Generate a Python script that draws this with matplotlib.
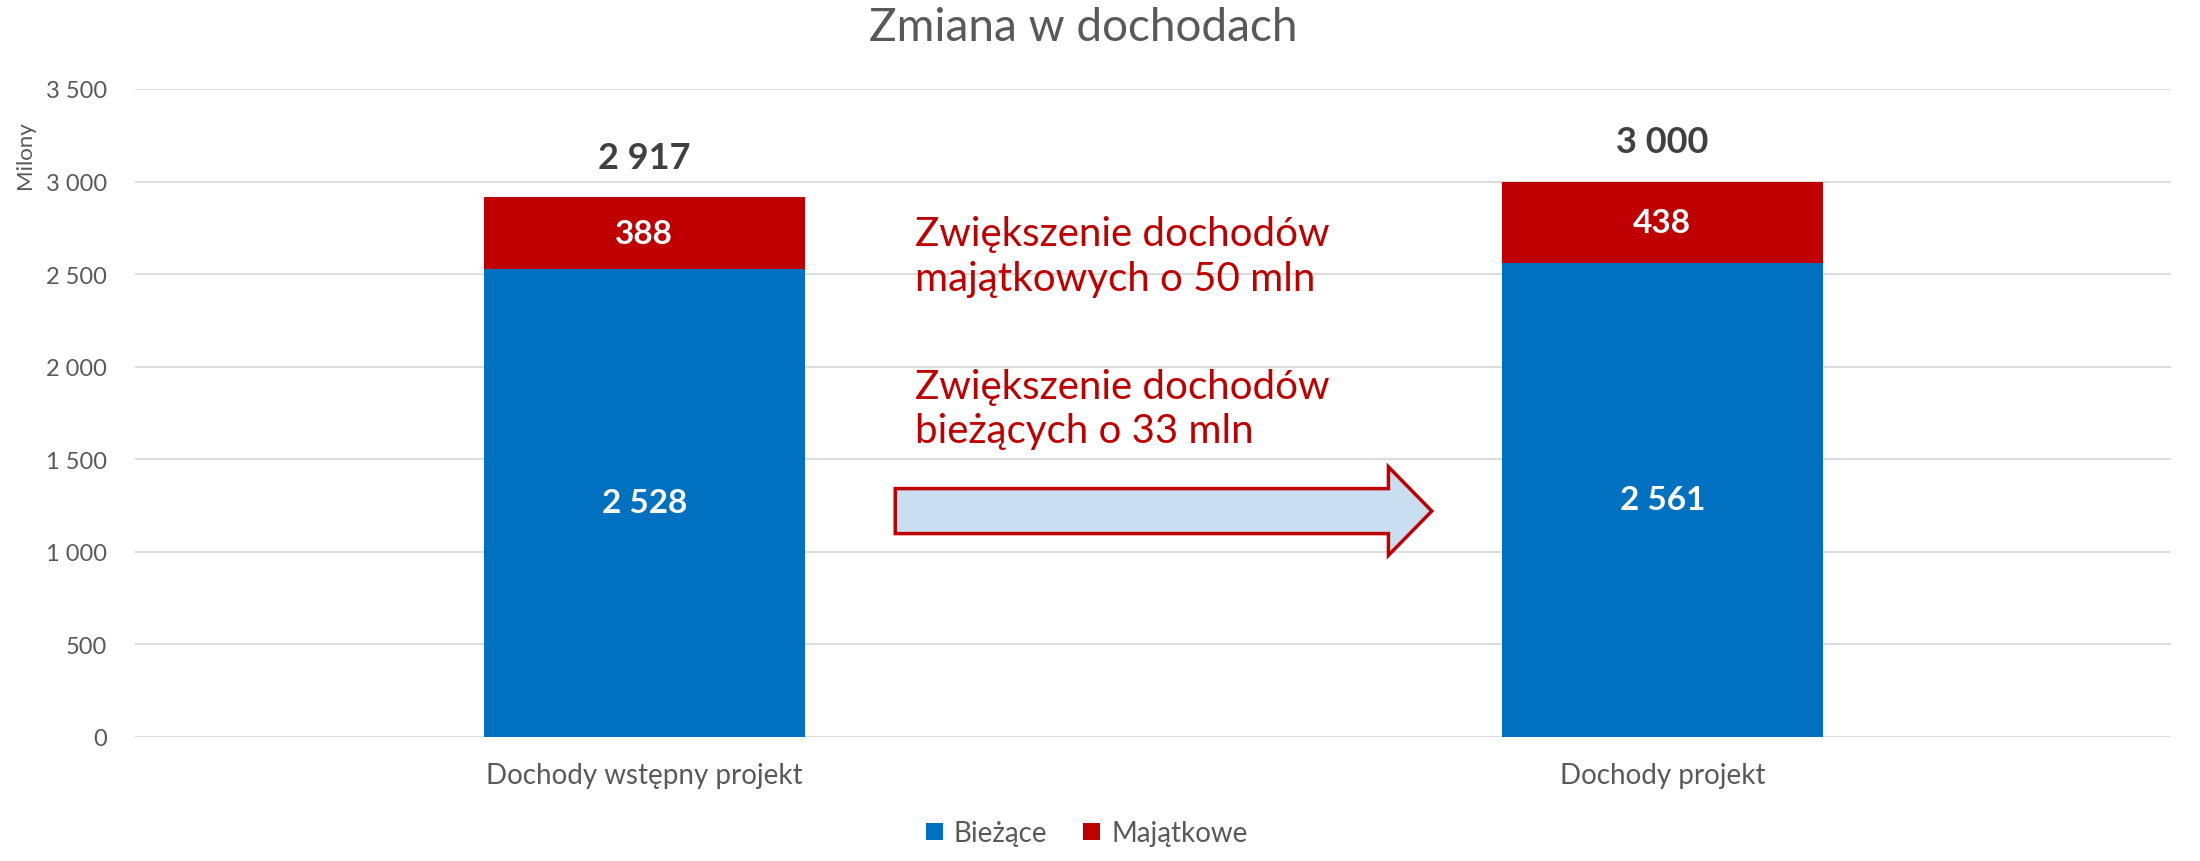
import numpy as np
import matplotlib.pyplot as plt
from matplotlib.patches import FancyArrow
from matplotlib.ticker import FuncFormatter

plt.rcParams['font.family'] = ['Lato', 'DejaVu Sans']

#--------------------------------------------------------------------------------------------------------------------------------
#Dane
kategorie = ['Dochody wstępny projekt', 'Dochody projekt']
biezace = [2528, 2561]
majatkowe = [388, 438]
sumy = [2917, 3000]
serie = ['Bieżące', 'Majątkowe']
opis1 = 'Zwiększenie dochodów\nmajątkowych o 50 mln'
opis2 = 'Zwiększenie dochodów\nbieżących o 33 mln'

niebieski = '#0070C0'
czerwony = '#C00000'
szary = '#595959'

def fmt(v):
    return '{:,.0f}'.format(v).replace(',', ' ')

#--------------------------------------------------------------------------------------------------------------------------------
#Wykres
fig = plt.figure(figsize=(22, 8.62), dpi=100)
ax = fig.add_axes([0.0614, 0.1439, 0.9256, 0.7517])

x = np.arange(len(kategorie))
szer = 0.315
b1 = ax.bar(x, biezace, szer, color=niebieski, label=serie[0], zorder=3)
b2 = ax.bar(x, majatkowe, szer, bottom=biezace, color=czerwony, label=serie[1], zorder=3)

for i in range(len(x)):
    ax.text(x[i], biezace[i] / 2, fmt(biezace[i]), ha='center', va='center',
            color='white', fontsize=24, fontweight='bold', zorder=4)
    ax.text(x[i], biezace[i] + majatkowe[i] / 2, fmt(majatkowe[i]), ha='center', va='center',
            color='white', fontsize=24, fontweight='bold', zorder=4)
    ax.text(x[i], sumy[i] + 215, fmt(sumy[i]), ha='center', va='center',
            color='#404040', fontsize=26, fontweight='bold', zorder=4)

ax.text(0.266, 2598, opis1, ha='left', va='center', color=czerwony, fontsize=29, linespacing=1.25)
ax.text(0.266, 1773, opis2, ha='left', va='center', color=czerwony, fontsize=29, linespacing=1.25)

strzalka = FancyArrow(0.2466, 1220, 0.527, 0, width=243, head_width=478, head_length=0.0426,
                      length_includes_head=True, facecolor='#C9DEF0', edgecolor=czerwony,
                      linewidth=2.5, zorder=5)
ax.add_patch(strzalka)

ax.set_xlim(-0.5, 1.5)
ax.set_ylim(0, 3500)
ax.set_yticks(np.arange(0, 3501, 500))
ax.yaxis.set_major_formatter(FuncFormatter(lambda v, p: fmt(v)))
ax.set_xticks(x)
ax.set_xticklabels(kategorie)
ax.tick_params(axis='both', length=0, labelcolor=szary)
ax.tick_params(axis='x', pad=18, labelsize=20)
ax.tick_params(axis='y', pad=20, labelsize=17)
ax.grid(axis='y', color='#D9D9D9', linewidth=1.3, zorder=0)
for s in ax.spines.values():
    s.set_visible(False)

fig.text(0.4925, 0.967, 'Zmiana w dochodach', ha='center', va='center', fontsize=33, color=szary)
fig.text(0.0115, 0.82, 'Milony', rotation=90, ha='center', va='center', fontsize=16, color=szary)

fig.legend(handles=[b1, b2], labels=serie, loc='lower center', bbox_to_anchor=(0.494, -0.012),
           ncol=2, frameon=False, fontsize=20, handlelength=0.6, handleheight=0.6,
           columnspacing=1.3, handletextpad=0.4, labelcolor=szary)

plt.savefig('out.png', dpi=100)
